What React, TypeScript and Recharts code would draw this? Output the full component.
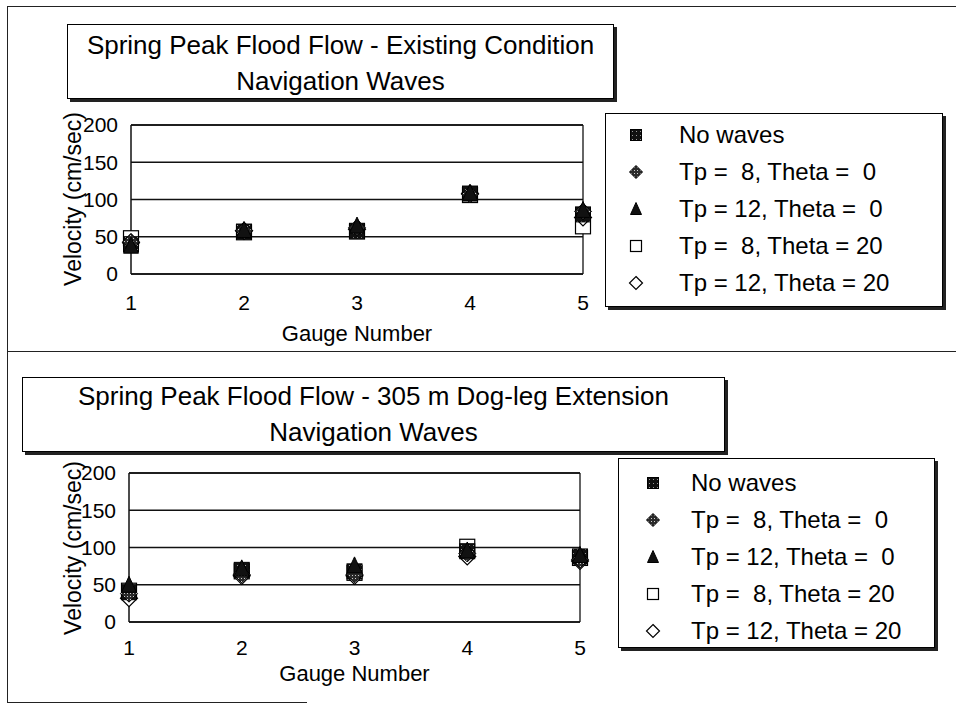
import React from 'react';
import { ScatterChart, Scatter, XAxis, YAxis, CartesianGrid, ReferenceLine, Legend } from 'recharts';

const gauges = [1, 2, 3, 4, 5];
const velocityTicks = [0, 50, 100, 150, 200];
const seriesNames = [
  'No waves',
  'Tp =  8, Theta =  0',
  'Tp = 12, Theta =  0',
  'Tp =  8, Theta = 20',
  'Tp = 12, Theta = 20',
];

// existing condition (cm/sec)
const existNoWaves = [40, 57, 58, 108, 80];
const existTp8Th0 = [43, 58, 62, 107, 84];
const existTp12Th0 = [38, 59, 65, 109, 86];
const existTp8Th20 = [48, 56, 57, 106, 64];
const existTp12Th20 = [42, 58, 60, 108, 76];

// 305 m dog-leg extension (cm/sec)
const dogNoWaves = [40, 70, 68, 95, 88];
const dogTp8Th0 = [38, 64, 64, 92, 84];
const dogTp12Th0 = [50, 72, 76, 96, 90];
const dogTp8Th20 = [42, 68, 66, 101, 86];
const dogTp12Th20 = [32, 62, 62, 88, 82];

const W = 956;
const H = 352;
const Y_AXIS_W = 60;
const X_AXIS_H = 70;
const FONT = "'Liberation Sans', Arial, sans-serif";
const INK = '#111';

// marker look per series, same order as seriesNames
const seriesKinds = ['darkSquare', 'dotDiamond', 'darkTriangle', 'openSquare', 'openDiamond'];
// open markers sit underneath the filled ones
const drawOrder = [3, 4, 0, 1, 2];

const Marker = ({ kind, cx, cy, size }: { kind: string; cx: number; cy: number; size: number }) => {
  const h = size / 2;
  switch (kind) {
    case 'darkSquare':
      return <rect x={cx - h} y={cy - h} width={size} height={size} fill="url(#speck)" stroke="#000" strokeWidth={1} />;
    case 'dotDiamond':
      return (
        <polygon
          points={`${cx},${cy - h - 1} ${cx + h + 1},${cy} ${cx},${cy + h + 1} ${cx - h - 1},${cy}`}
          fill="url(#dots)"
          stroke="#000"
          strokeWidth={1}
        />
      );
    case 'darkTriangle':
      return <polygon points={`${cx},${cy - h - 1} ${cx + h},${cy + h} ${cx - h},${cy + h}`} fill="#111" stroke="#000" />;
    case 'openSquare':
      return <rect x={cx - h} y={cy - h} width={size} height={size} fill="#fff" stroke="#000" strokeWidth={1.2} />;
    default:
      return (
        <polygon
          points={`${cx},${cy - h - 1} ${cx + h + 1},${cy} ${cx},${cy + h + 1} ${cx - h - 1},${cy}`}
          fill="#fff"
          stroke="#000"
          strokeWidth={1.2}
        />
      );
  }
};

const XTitle = ({ px, py }: { px: number; py: number }) => (
  <text x={px} y={py} textAnchor="middle" fontSize={22} fill="#000" fontFamily={FONT}>
    Gauge Number
  </text>
);

const YTitle = ({ px, py }: { px: number; py: number }) => (
  <text
    x={px}
    y={py}
    textAnchor="middle"
    dominantBaseline="central"
    fontSize={23}
    fill="#000"
    fontFamily={FONT}
    transform={`rotate(-90 ${px} ${py})`}
  >
    Velocity (cm/sec)
  </text>
);

type Box = { left: number; top: number; width: number; height: number };

const LegendBox = ({ box, rowTop, markerX, textX }: { box: Box; rowTop: number; markerX: number; textX: number }) => (
  <div
    style={{
      position: 'relative',
      width: box.width,
      height: box.height,
      boxSizing: 'border-box',
      border: '1px solid #000',
      boxShadow: '3px 3px 0 #222',
      background: '#fff',
      fontFamily: FONT,
    }}
  >
    {seriesNames.map((name, i) => (
      <React.Fragment key={name}>
        <svg
          width={18}
          height={18}
          style={{ position: 'absolute', left: markerX - 9, top: rowTop + i * 37 - 9 }}
        >
          <Marker kind={seriesKinds[i]} cx={9} cy={9} size={11} />
        </svg>
        <div
          style={{
            position: 'absolute',
            left: textX,
            top: rowTop + i * 37 - 15,
            height: 30,
            lineHeight: '30px',
            fontSize: 24,
            whiteSpace: 'pre',
            color: '#000',
          }}
        >
          {name}
        </div>
      </React.Fragment>
    ))}
  </div>
);

interface PanelProps {
  top: number;
  titleLines: string[];
  titleBox: Box;
  titleInset: number;
  legendBox: Box;
  legendRowTop: number;
  legendMarkerX: number;
  legendTextX: number;
  values: number[][];
  plot: { left: number; right: number; top: number; bottom: number };
  tickGap: number;
  xTitleY: number;
  yTitleY: number;
}

const Panel = (p: PanelProps) => {
  const { plot } = p;
  const margin = {
    top: plot.top,
    right: W - plot.right,
    left: plot.left - Y_AXIS_W,
    bottom: H - plot.bottom - X_AXIS_H,
  };
  return (
    <div style={{ position: 'absolute', left: 0, top: p.top, width: W, height: H }}>
      <ScatterChart width={W} height={H} margin={margin} style={{ fontFamily: FONT }}>
        <CartesianGrid vertical={false} stroke={INK} strokeWidth={1.3} />
        <XAxis
          type="number"
          dataKey="x"
          domain={[1, 5]}
          ticks={gauges}
          interval={0}
          tickLine={false}
          tickSize={0}
          tickMargin={p.tickGap}
          height={X_AXIS_H}
          axisLine={{ stroke: INK, strokeWidth: 1.5 }}
          tick={{ fill: '#000', fontSize: 21 }}
          label={<XTitle px={(plot.left + plot.right) / 2} py={p.xTitleY} />}
        />
        <YAxis
          type="number"
          dataKey="y"
          domain={[0, 200]}
          ticks={velocityTicks}
          interval={0}
          tickLine={false}
          tickSize={0}
          tickMargin={13}
          width={Y_AXIS_W}
          axisLine={{ stroke: INK, strokeWidth: 1.5 }}
          tick={{ fill: '#000', fontSize: 21 }}
          label={<YTitle px={73} py={p.yTitleY} />}
        />
        <ReferenceLine x={5} stroke={INK} strokeWidth={1.3} />
        <ReferenceLine y={200} stroke={INK} strokeWidth={1.3} />
        <Legend
          layout="horizontal"
          align="center"
          verticalAlign="middle"
          wrapperStyle={{
            left: p.legendBox.left,
            top: p.legendBox.top - p.top,
            width: p.legendBox.width,
            height: p.legendBox.height,
          }}
          content={() => (
            <LegendBox box={p.legendBox} rowTop={p.legendRowTop} markerX={p.legendMarkerX} textX={p.legendTextX} />
          )}
        />
        {drawOrder.map((i) => (
          <Scatter
            key={seriesNames[i]}
            name={seriesNames[i]}
            data={gauges.map((g, k) => ({ x: g, y: p.values[i][k] }))}
            isAnimationActive={false}
            shape={(sp: any) => <Marker kind={seriesKinds[i]} cx={sp.cx} cy={sp.cy} size={15} />}
          />
        ))}
      </ScatterChart>
      <div
        style={{
          position: 'absolute',
          left: p.titleBox.left,
          top: p.titleBox.top - p.top,
          width: p.titleBox.width,
          height: p.titleBox.height,
          boxSizing: 'border-box',
          border: '1px solid #000',
          boxShadow: '3px 3px 0 #222',
          background: '#fff',
          fontFamily: FONT,
          fontSize: 26,
          color: '#000',
          textAlign: 'center',
        }}
      >
        {p.titleLines.map((line, i) => (
          <div
            key={line}
            style={{ position: 'absolute', left: 0, right: 0, top: p.titleInset + i * 36, lineHeight: '30px' }}
          >
            {line}
          </div>
        ))}
      </div>
    </div>
  );
};

export default function App() {
  return (
    <div
      style={{
        position: 'absolute',
        left: 0,
        top: 0,
        width: W,
        height: 704,
        overflow: 'hidden',
        background: '#fff',
      }}
    >
      <svg width={0} height={0} style={{ position: 'absolute' }}>
        <defs>
          <pattern id="speck" width={4} height={4} patternUnits="userSpaceOnUse">
            <rect width={4} height={4} fill="#111" />
            <rect x={1} y={1} width={1} height={1} fill="#999" />
          </pattern>
          <pattern id="dots" width={3} height={3} patternUnits="userSpaceOnUse">
            <rect width={3} height={3} fill="#2a2a2a" />
            <rect x={1} y={1} width={1} height={1} fill="#ccc" />
          </pattern>
        </defs>
      </svg>
      {/* outer frame and divider */}
      <div style={{ position: 'absolute', left: 7, top: 6, width: 960, height: 696, borderLeft: '1.5px solid #222', borderTop: '1.5px solid #222' }} />
      <div style={{ position: 'absolute', left: 7, top: 351, width: 960, borderTop: '1.5px solid #222' }} />
      <div style={{ position: 'absolute', left: 7, top: 702, width: 300, borderTop: '1.5px solid #222' }} />
      <Panel
        top={0}
        titleLines={['Spring Peak Flood Flow - Existing Condition', 'Navigation Waves']}
        titleBox={{ left: 67, top: 24, width: 547, height: 75 }}
        titleInset={5}
        legendBox={{ left: 605, top: 113, width: 338, height: 194 }}
        legendRowTop={21}
        legendMarkerX={30}
        legendTextX={73}
        values={[existNoWaves, existTp8Th0, existTp12Th0, existTp8Th20, existTp12Th20]}
        plot={{ left: 131, right: 583, top: 125, bottom: 274 }}
        tickGap={21}
        xTitleY={341}
        yTitleY={199}
      />
      <Panel
        top={352}
        titleLines={['Spring Peak Flood Flow - 305 m Dog-leg Extension', 'Navigation Waves']}
        titleBox={{ left: 22, top: 377, width: 703, height: 75 }}
        titleInset={3}
        legendBox={{ left: 618, top: 458, width: 317, height: 190 }}
        legendRowTop={24}
        legendMarkerX={34}
        legendTextX={72}
        values={[dogNoWaves, dogTp8Th0, dogTp12Th0, dogTp8Th20, dogTp12Th20]}
        plot={{ left: 129, right: 580, top: 121, bottom: 270 }}
        tickGap={18}
        xTitleY={329}
        yTitleY={196}
      />
    </div>
  );
}
